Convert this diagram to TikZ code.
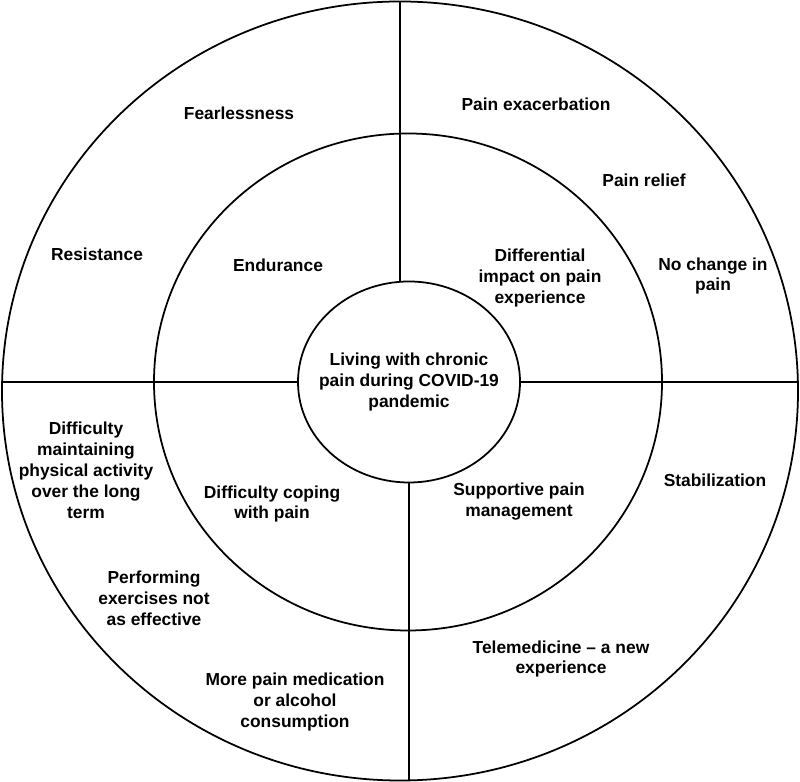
\documentclass[tikz,border=0pt]{standalone}
\usepackage{fontspec}
\setmainfont{Liberation Sans}
\usetikzlibrary{shapes.geometric}

\begin{document}
\begin{tikzpicture}[x=0.3mm,y=0.3mm,every node/.style={font=\bfseries\fontsize{14.85}{17.85}\selectfont,align=center},ring/.style={draw,line width=1.5pt,ellipse,inner sep=0pt},divider/.style={line width=1.5pt}]
\useasboundingbox (0,0) rectangle (800,782);
\node[ring,minimum width=238.8mm,minimum height=233.7mm] (outer) at (400,391) {};
\node[ring,minimum width=152.4mm,minimum height=149.1mm] (middle) at (408,400) {};
\node[ring,minimum width=66.6mm,minimum height=60.3mm] (inner) at (409,400) {};
\node (theme) at (inner.center) {Living with chronic\\pain during COVID-19\\pandemic};
\draw[divider] (outer.north) -- (outer.north |- inner.north);
\draw[divider] (inner.south) -- (inner.south |- outer.south);
\draw[divider] (inner.west) -- (inner.west -| outer.west);
\draw[divider] (inner.east) -- (inner.east -| outer.east);
% inner ring
\node (endurance) at (278,517) {Endurance};
\node (impact) at (540,504) {Differential\\impact on pain\\experience};
\node (coping) at (272,278) {Difficulty coping\\with pain};
\node (support) at (519,280) {Supportive pain\\management};
% outer ring
\node (fearless) at (239,669) {Fearlessness};
\node (resist) at (97,528) {Resistance};
\node (exacerb) at (536,678) {Pain exacerbation};
\node (relief) at (644,602) {Pain relief};
\node (nochange) at (713,506) {No change in\\pain};
\node (activity) at (86,312) {Difficulty\\maintaining\\physical activity\\over the long\\term};
\node (exercise) at (154,184) {Performing\\exercises not\\as effective};
\node (medic) at (295,80) {More pain medication\\or alcohol\\consumption};
\node (stable) at (715,302) {Stabilization};
\node (tele) at (561,123) {Telemedicine -- a new\\experience};
\end{tikzpicture}
\end{document}
